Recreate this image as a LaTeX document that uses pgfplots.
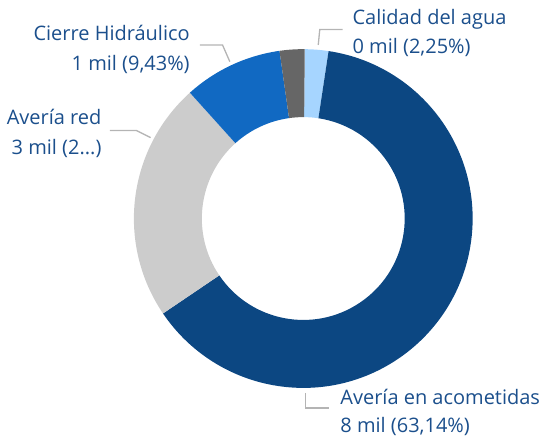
\documentclass[border=0pt]{standalone}
\usepackage{fontspec}
\setmainfont{Open Sans}
\usepackage{pgfplots}
\usepackage{pgfplotstable}
\pgfplotsset{compat=1.18}
\definecolor{cA}{HTML}{A6D5FF}
\definecolor{cB}{HTML}{0C4782}
\definecolor{cC}{HTML}{CCCCCC}
\definecolor{cD}{HTML}{1169C2}
\definecolor{cE}{HTML}{666666}
\definecolor{lbl}{HTML}{1B4F8C}
\definecolor{lead}{HTML}{B4B4B4}

\pgfplotstableread{
name value col
Calidad 2.25 cA
Acometidas 63.14 cB
Red 22.80 cC
Cierre 9.43 cD
Otros 2.38 cE
}\donut

\begin{document}
\begin{tikzpicture}
\begin{axis}[hide axis, scale only axis, x=1bp, y=1bp, xmin=0, xmax=540, ymin=0, ymax=441, clip=false]
\path (axis cs:0,0) rectangle (axis cs:540,441);
\pgfplotstablegetrowsof{\donut}
\pgfmathtruncatemacro{\nrows}{\pgfplotsretval-1}
\def\cum{0}
\pgfplotsforeachungrouped \i in {0,...,\nrows}{%
  \pgfplotstablegetelem{\i}{value}\of{\donut}\let\v\pgfplotsretval
  \pgfplotstablegetelem{\i}{col}\of{\donut}\let\c\pgfplotsretval
  \pgfmathsetmacro{\aone}{89.5-3.6*\cum}%
  \pgfmathsetmacro{\atwo}{89.5-3.6*(\cum+\v)}%
  \pgfmathsetmacro{\xo}{303.5+169.5*cos(\aone)}%
  \pgfmathsetmacro{\yo}{222.3+169.5*sin(\aone)}%
  \pgfmathsetmacro{\xi}{303.5+101.5*cos(\atwo)}%
  \pgfmathsetmacro{\yi}{222.3+101.5*sin(\atwo)}%
  \edef\temp{\noexpand\fill[\c] (axis cs:\xo,\yo) arc[start angle=\aone, end angle=\atwo, radius=169.5bp] -- (axis cs:\xi,\yi) arc[start angle=\atwo, end angle=\aone, radius=101.5bp] -- cycle;}%
  \temp
  \pgfmathsetmacro{\cum}{\cum+\v}%
}
% leader lines
\draw[lead, line width=1.3bp] (axis cs:318.5,396) -- (axis cs:320,411.5) -- (axis cs:343,411.5);
\draw[lead, line width=1.3bp] (axis cs:200,396) -- (axis cs:222.7,396) -- (axis cs:230,379.3);
\draw[lead, line width=1.3bp] (axis cs:110,310.3) -- (axis cs:136.7,310.3) -- (axis cs:150.7,303.3);
\draw[lead, line width=1.3bp] (axis cs:305.7,47.7) -- (axis cs:305.7,32.7) -- (axis cs:329.3,32.7);
% labels
\tikzset{lb/.style={text=lbl, font=\fontsize{20bp}{24bp}\selectfont, inner sep=0pt}}
\node[lb, anchor=base west] at (axis cs:352.7,416) {Calidad del agua};
\node[lb, anchor=base west] at (axis cs:352.7,387) {0 mil (2,25\%)};
\node[lb, anchor=base east] at (axis cs:190,400) {Cierre Hidráulico};
\node[lb, anchor=base east] at (axis cs:190,370) {1 mil (9,43\%)};
\node[lb, anchor=base east] at (axis cs:101.7,316.7) {Avería red};
\node[lb, anchor=base east] at (axis cs:101.7,286.7) {3 mil (2...)};
\node[lb, anchor=base west] at (axis cs:340.5,36) {Avería en acometidas};
\node[lb, anchor=base west] at (axis cs:340.5,8.3) {8 mil (63,14\%)};
\end{axis}
\end{tikzpicture}
\end{document}
